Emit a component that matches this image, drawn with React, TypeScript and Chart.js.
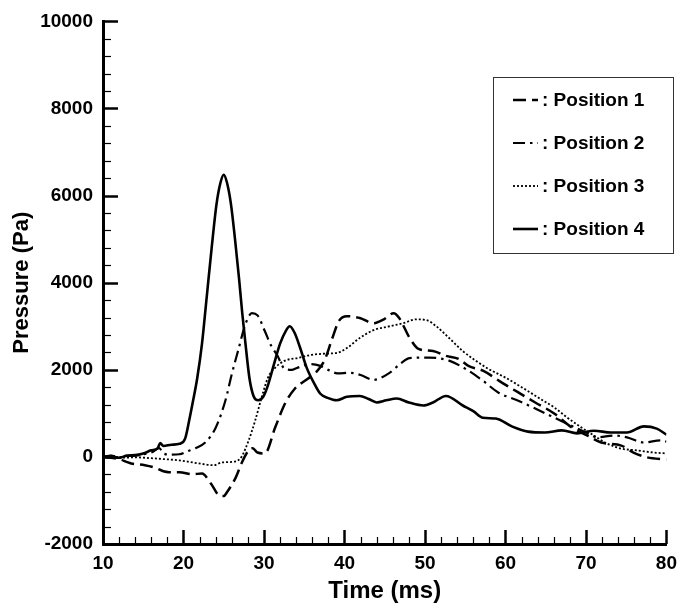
import { useEffect, useRef } from "react";
import { Chart, registerables } from "chart.js";

Chart.register(...registerables);

const FONT = '"Liberation Sans", Arial, Helvetica, sans-serif';

const seriesLabels = ["Position 1", "Position 2", "Position 3", "Position 4"];

// Position 1 (long dash)
const p1Time = [10, 11, 12, 13, 13.5, 15.2, 16.5, 17.5, 18.2, 19.5, 21.1, 22.3, 23.4, 24.4, 25.0, 25.4, 26.5, 27.2, 28.1, 28.6, 29.2, 30.1, 31.4, 32.6, 33.8, 35.4, 36.5, 37.5, 38.5, 39.3, 40.3, 41.9, 43.6, 44.9, 46.1, 46.8, 48.1, 49.2, 51.0, 52.6, 54.2, 55.4, 57.2, 59.6, 61.6, 63.7, 66.1, 68.2, 70.2, 71.9, 74.4, 75.9, 77.6, 80];
const p1Pressure = [0, -20, -50, -120, -150, -190, -250, -330, -350, -350, -400, -380, -610, -880, -900, -810, -470, -150, 150, 200, 100, 80, 680, 1220, 1560, 1790, 1950, 2210, 2730, 3120, 3230, 3190, 3070, 3160, 3300, 3190, 2730, 2480, 2430, 2320, 2250, 2090, 1980, 1700, 1480, 1250, 990, 680, 490, 330, 260, 100, -10, -60];

// Position 2 (dash-dot)
const p2Time = [10, 11, 12, 13, 14, 15, 16, 17.0, 17.5, 18.5, 19.5, 20.5, 21.5, 22.7, 24.0, 25.2, 26.0, 26.8, 27.7, 28.5, 29.2, 30.1, 30.9, 31.6, 32.6, 33.5, 34.2, 35.8, 37.0, 38.2, 39.1, 40.7, 42.0, 43.6, 45.6, 47.0, 48.1, 50.5, 53.0, 55.4, 57.2, 59.1, 61.6, 63.7, 66.1, 68.6, 70.0, 71.4, 73.5, 75.1, 77.2, 79.3, 80];
const p2Pressure = [0, 30, -10, 20, 30, 60, 100, 200, 80, 50, 60, 130, 200, 330, 670, 1290, 1900, 2450, 3050, 3300, 3250, 2890, 2550, 2350, 2020, 2000, 2050, 2130, 2090, 1980, 1920, 1930, 1880, 1770, 1930, 2150, 2270, 2280, 2210, 1980, 1750, 1480, 1290, 1110, 900, 680, 560, 450, 490, 450, 330, 380, 350];

// Position 3 (dotted)
const p3Time = [10, 12, 14, 16, 17.5, 19.5, 21.9, 23.8, 24.7, 26.5, 27.2, 28.1, 28.9, 29.7, 30.5, 31.4, 32.6, 34.2, 35.8, 37.5, 39.1, 40.3, 41.9, 43.6, 45.6, 47.3, 48.9, 50.2, 51.4, 53.0, 54.7, 56.3, 57.9, 60.0, 62.1, 64.1, 66.1, 67.7, 69.4, 71.0, 72.6, 74.4, 76.3, 78.4, 80];
const p3Pressure = [0, -20, -10, -30, -50, -80, -150, -190, -130, -100, 0, 380, 830, 1360, 1820, 2050, 2210, 2270, 2340, 2370, 2390, 2500, 2730, 2910, 3000, 3070, 3160, 3140, 3000, 2730, 2430, 2210, 2020, 1820, 1590, 1360, 1130, 900, 680, 490, 310, 190, 150, 100, 80];

// Position 4 (solid)
const p4Time = [10, 11, 12, 13, 14, 15, 16, 16.8, 17.1, 17.5, 18.5, 19.5, 20.2, 20.7, 21.2, 21.7, 22.3, 22.9, 23.5, 24.1, 24.6, 25.0, 25.4, 25.9, 26.4, 26.9, 27.3, 27.7, 28.2, 28.7, 29.3, 29.9, 30.5, 31.2, 32.0, 32.7, 33.2, 33.8, 34.5, 35.3, 36.2, 37.0, 38.0, 39.0, 40.3, 41.9, 43.0, 44.0, 45.2, 46.5, 48.0, 49.8, 51.0, 52.6, 54.7, 56.0, 57.2, 58.8, 60.8, 62.8, 64.9, 67.0, 68.9, 71.0, 73.1, 75.1, 77.2, 78.8, 80];
const p4Pressure = [0, 20, -20, 30, 40, 80, 150, 200, 320, 250, 280, 300, 420, 830, 1300, 1800, 2600, 3700, 4800, 5800, 6300, 6480, 6300, 5800, 5000, 4100, 3300, 2600, 1800, 1400, 1300, 1380, 1650, 2100, 2600, 2890, 3000, 2850, 2500, 2050, 1700, 1450, 1350, 1300, 1380, 1400, 1330, 1250, 1300, 1340, 1250, 1180, 1250, 1400, 1180, 1050, 900, 880, 700, 580, 560, 610, 540, 600, 560, 560, 700, 650, 510];

const xMin = 10, xMax = 80, xMajor = 10, xMinor = 2;
const yMin = -2000, yMax = 10000, yMajor = 2000, yMinor = 400;

const toPoints = (t: number[], p: number[]) => t.map((v, i) => ({ x: v, y: p[i] }));

const innerTicks = {
  id: "innerTicks",
  afterDatasetsDraw(chart: any) {
    const { ctx, scales } = chart;
    const xs = scales.x, ys = scales.y;
    ctx.save();
    ctx.strokeStyle = "#000";
    for (let v = yMin; v <= yMax + 1e-6; v += yMinor) {
      const major = Math.abs(v % yMajor) < 1e-6;
      const py = Math.round(ys.getPixelForValue(v)) + 0.5;
      ctx.lineWidth = major ? 2.5 : 1.2;
      ctx.beginPath();
      ctx.moveTo(xs.left, py);
      ctx.lineTo(xs.left + (major ? 15 : 8), py);
      ctx.stroke();
    }
    for (let v = xMin; v <= xMax + 1e-6; v += xMinor) {
      const major = Math.abs((v - xMin) % xMajor) < 1e-6;
      const px = Math.round(xs.getPixelForValue(v)) + 0.5;
      ctx.lineWidth = major ? 2.5 : 1.2;
      ctx.beginPath();
      ctx.moveTo(px, ys.bottom);
      ctx.lineTo(px, ys.bottom - (major ? 14 : 7));
      ctx.stroke();
    }
    ctx.restore();
  },
};

const boxLegend = {
  id: "boxLegend",
  afterDraw(chart: any) {
    const { ctx } = chart;
    const left = 493, top = 77, right = 673, bottom = 253;
    ctx.save();
    ctx.fillStyle = "#fff";
    ctx.fillRect(left, top, right - left, bottom - top);
    ctx.strokeStyle = "#333";
    ctx.lineWidth = 1;
    ctx.strokeRect(left + 0.5, top + 0.5, right - left, bottom - top);
    ctx.font = `bold 19px ${FONT}`;
    ctx.textBaseline = "middle";
    ctx.fillStyle = "#000";
    chart.data.datasets.forEach((ds: any, i: number) => {
      const y = 100 + i * 43;
      ctx.save();
      ctx.strokeStyle = ds.borderColor;
      ctx.lineWidth = ds.borderWidth;
      ctx.setLineDash(ds.borderDash || []);
      ctx.beginPath();
      ctx.moveTo(513, y);
      ctx.lineTo(538, y);
      ctx.stroke();
      ctx.restore();
      ctx.fillText(": " + ds.label, 542, y + 1);
    });
    ctx.restore();
  },
};

export default function App() {
  const ref = useRef<HTMLCanvasElement>(null);
  useEffect(() => {
    document.body.style.margin = "0";
    const chart = new Chart(ref.current as HTMLCanvasElement, {
      type: "line",
      data: {
        datasets: [
          { label: seriesLabels[0], data: toPoints(p1Time, p1Pressure), borderColor: "#000", borderWidth: 2.5, borderDash: [13, 6] },
          { label: seriesLabels[1], data: toPoints(p2Time, p2Pressure), borderColor: "#000", borderWidth: 2.2, borderDash: [12, 5, 2.5, 5] },
          { label: seriesLabels[2], data: toPoints(p3Time, p3Pressure), borderColor: "#000", borderWidth: 1.8, borderDash: [2, 2] },
          { label: seriesLabels[3], data: toPoints(p4Time, p4Pressure), borderColor: "#000", borderWidth: 2.6, borderDash: [] },
        ] as any,
      },
      options: {
        responsive: false,
        animation: false,
        devicePixelRatio: 1,
        parsing: false as any,
        elements: { point: { radius: 0 }, line: { cubicInterpolationMode: "monotone", fill: false } },
        layout: { padding: { top: 19, right: 12, left: 9, bottom: 4 } },
        plugins: { legend: { display: false }, tooltip: { enabled: false } },
        scales: {
          x: {
            type: "linear",
            min: xMin,
            max: xMax,
            ticks: { stepSize: xMajor, padding: 8, color: "#000", maxRotation: 0, font: { family: FONT, size: 19, weight: "bold" }, callback: (v: any) => String(v) },
            grid: { display: false, drawTicks: false },
            border: { display: true, width: 3, color: "#000" },
            title: { display: true, text: "Time (ms)", color: "#000", padding: 0, font: { family: FONT, size: 24, weight: "bold" } },
            afterFit: (s: any) => { s.height = 610 - 544 - 4; },
          },
          y: {
            type: "linear",
            min: yMin,
            max: yMax,
            ticks: { stepSize: yMajor, padding: 10, color: "#000", font: { family: FONT, size: 19, weight: "bold" }, callback: (v: any) => String(v) },
            grid: { display: false, drawTicks: false },
            border: { display: true, width: 3, color: "#000" },
            title: { display: true, text: "Pressure (Pa)", color: "#000", padding: 0, font: { family: FONT, size: 22, weight: "bold" } },
            afterFit: (s: any) => { s.width = 103 - 9; },
          },
        },
      } as any,
      plugins: [innerTicks, boxLegend],
    });
    return () => chart.destroy();
  }, []);
  return (
    <div style={{ position: "absolute", left: 0, top: 0, width: 685, height: 610, background: "#fff" }}>
      <canvas ref={ref} width={685} height={610} style={{ display: "block" }} />
    </div>
  );
}
